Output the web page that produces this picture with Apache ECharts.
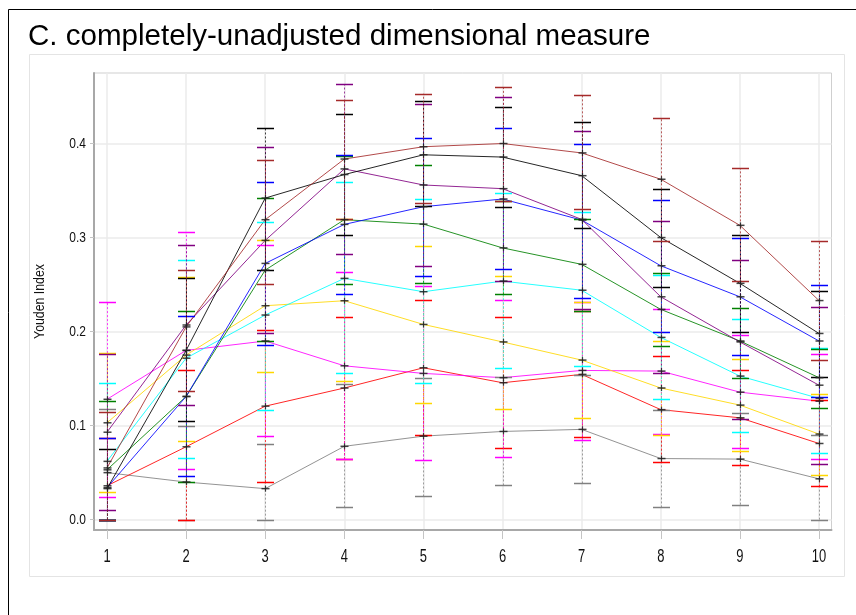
<!DOCTYPE html>
<html><head><meta charset="utf-8">
<script src="https://cdn.jsdelivr.net/npm/echarts@6/dist/echarts.min.js"></script>
<style>html,body{margin:0;padding:0;background:#fff}#c{width:856px;height:615px}</style>
</head><body><div id="c"></div>
<script>
// ---------- data ----------
const xValues = [1, 2, 3, 4, 5, 6, 7, 8, 9, 10];
const yTicks = [0, 0.1, 0.2, 0.3, 0.4];
const titleText = 'C. completely-unadjusted dimensional measure';
const yAxisTitle = 'Youden Index';

const brownVal = [0.055, 0.205, 0.319, 0.3835, 0.3966, 0.400, 0.390, 0.362, 0.313, 0.233];
const brownLo  = [0.000, 0.137, 0.251, 0.320, 0.337, 0.339, 0.330, 0.296, 0.2534, 0.1697];
const brownHi  = [0.115, 0.266, 0.382, 0.446, 0.453, 0.460, 0.4516, 0.4268, 0.3736, 0.296];

const blackVal = [0.033, 0.180, 0.342, 0.367, 0.388, 0.3856, 0.3658, 0.300, 0.2513, 0.198];
const blackLo  = [0.000, 0.1045, 0.265, 0.303, 0.334, 0.332, 0.310, 0.247, 0.200, 0.152];
const blackHi  = [0.075, 0.257, 0.416, 0.431, 0.445, 0.4385, 0.4225, 0.352, 0.3023, 0.2428];

const purpleVal = [0.093, 0.207, 0.297, 0.373, 0.3559, 0.352, 0.3193, 0.237, 0.189, 0.143];
const purpleLo  = [0.010, 0.1215, 0.198, 0.283, 0.270, 0.254, 0.2243, 0.1555, 0.107, 0.0587];
const purpleHi  = [0.176, 0.292, 0.396, 0.463, 0.4417, 0.449, 0.413, 0.318, 0.2757, 0.2257];

const blueVal = [0.034, 0.131, 0.2725, 0.314, 0.3328, 0.341, 0.3186, 0.270, 0.237, 0.190];
const blueLo  = [0.000, 0.046, 0.186, 0.2396, 0.2587, 0.267, 0.2353, 0.200, 0.1747, 0.130];
const blueHi  = [0.087, 0.217, 0.3587, 0.388, 0.4055, 0.416, 0.400, 0.340, 0.299, 0.250];

const greenVal = [0.053, 0.131, 0.2654, 0.319, 0.3143, 0.289, 0.2715, 0.2236, 0.190, 0.151];
const greenLo  = [0.000, 0.040, 0.190, 0.251, 0.252, 0.2396, 0.222, 0.1846, 0.151, 0.1186];
const greenHi  = [0.126, 0.222, 0.3417, 0.387, 0.3768, 0.339, 0.3193, 0.262, 0.2247, 0.181];

const cyanVal = [0.062, 0.1717, 0.2176, 0.2566, 0.2424, 0.2537, 0.244, 0.1938, 0.1527, 0.129];
const cyanLo  = [0.000, 0.066, 0.117, 0.1555, 0.145, 0.161, 0.163, 0.128, 0.0927, 0.0704];
const cyanHi  = [0.145, 0.276, 0.3168, 0.3587, 0.3406, 0.347, 0.3275, 0.260, 0.213, 0.183];

const goldVal = [0.103, 0.175, 0.2275, 0.2328, 0.2076, 0.189, 0.1697, 0.140, 0.1218, 0.091];
const goldLo  = [0.029, 0.084, 0.1566, 0.147, 0.1236, 0.118, 0.1076, 0.090, 0.0725, 0.047];
const goldHi  = [0.177, 0.258, 0.297, 0.320, 0.291, 0.2587, 0.232, 0.190, 0.1704, 0.1335];

const magentaVal = [0.128, 0.180, 0.190, 0.1636, 0.1555, 0.151, 0.1587, 0.158, 0.1356, 0.126];
const magentaLo  = [0.024, 0.054, 0.0888, 0.064, 0.063, 0.067, 0.0842, 0.0906, 0.0757, 0.065];
const magentaHi  = [0.231, 0.3055, 0.292, 0.263, 0.248, 0.234, 0.232, 0.224, 0.196, 0.1757];

const redVal = [0.036, 0.0775, 0.1207, 0.140, 0.1615, 0.1456, 0.1545, 0.117, 0.1083, 0.081];
const redLo  = [0.000, 0.000, 0.040, 0.0644, 0.090, 0.0757, 0.0874, 0.0608, 0.0576, 0.0353];
const redHi  = [0.087, 0.159, 0.202, 0.216, 0.234, 0.215, 0.222, 0.1736, 0.159, 0.127];

const grayVal = [0.050, 0.040, 0.033, 0.078, 0.0888, 0.0938, 0.096, 0.065, 0.0644, 0.0434];
const grayLo  = [0.000, 0.000, 0.000, 0.013, 0.0247, 0.0364, 0.0385, 0.013, 0.016, 0.000];
const grayHi  = [0.118, 0.100, 0.080, 0.144, 0.151, 0.152, 0.1534, 0.117, 0.113, 0.0895];

const seriesDefs = [
  {name: 'gray',    color: '#808080', val: grayVal,    lo: grayLo,    hi: grayHi},
  {name: 'red',     color: '#FF0000', val: redVal,     lo: redLo,     hi: redHi},
  {name: 'magenta', color: '#FF00FF', val: magentaVal, lo: magentaLo, hi: magentaHi},
  {name: 'gold',    color: '#FFD700', val: goldVal,    lo: goldLo,    hi: goldHi},
  {name: 'cyan',    color: '#00FFFF', val: cyanVal,    lo: cyanLo,    hi: cyanHi},
  {name: 'green',   color: '#008000', val: greenVal,   lo: greenLo,   hi: greenHi},
  {name: 'blue',    color: '#0000FF', val: blueVal,    lo: blueLo,    hi: blueHi},
  {name: 'purple',  color: '#800080', val: purpleVal,  lo: purpleLo,  hi: purpleHi},
  {name: 'black',   color: '#000000', val: blackVal,   lo: blackLo,   hi: blackHi},
  {name: 'brown',   color: '#A52A2A', val: brownVal,   lo: brownLo,   hi: brownHi}
];

// ---------- chart ----------
const FONT = '"Liberation Sans", Arial, sans-serif';
const chart = echarts.init(document.getElementById('c'), null, {renderer: 'canvas'});

function errRender(color) {
  return function (params, api) {
    const x = api.value(0), v = api.value(1), lo = api.value(2), hi = api.value(3);
    const pL = api.coord([x, lo]), pH = api.coord([x, hi]), pV = api.coord([x, v]);
    const hw = 8.5;
    const cx = Math.round(pL[0]) + 0.5;
    return {
      type: 'group',
      children: [
        {type: 'line', shape: {x1: cx, y1: pL[1], x2: cx, y2: pH[1]},
         style: {stroke: color, lineWidth: 1, lineDash: [2, 2], opacity: 0.75}},
        {type: 'line', shape: {x1: cx - hw, y1: Math.round(pL[1]) + 0.5, x2: cx + hw, y2: Math.round(pL[1]) + 0.5},
         style: {stroke: color, lineWidth: 1.5}},
        {type: 'line', shape: {x1: cx - hw, y1: Math.round(pH[1]) + 0.5, x2: cx + hw, y2: Math.round(pH[1]) + 0.5},
         style: {stroke: color, lineWidth: 1.5}},
        {type: 'line', shape: {x1: cx - 4, y1: pV[1], x2: cx + 4, y2: pV[1]},
         style: {stroke: '#222', lineWidth: 1.5, opacity: 0.85}, z2: 10},
        {type: 'line', shape: {x1: cx, y1: pV[1] - 3, x2: cx, y2: pV[1] + 3},
         style: {stroke: '#222', lineWidth: 1.2, opacity: 0.85}, z2: 10}
      ]
    };
  };
}

const series = [];
seriesDefs.forEach(function (d) {
  series.push({
    name: d.name, type: 'line',
    data: xValues.map(function (x, i) { return [x, d.val[i]]; }),
    symbol: 'none', z: 2,
    lineStyle: {color: d.color, width: 1, opacity: 0.85},
    itemStyle: {color: d.color}, silent: true, animation: false
  });
});
seriesDefs.forEach(function (d) {
  series.push({
    name: d.name + '-ci', type: 'custom', z: 3,
    renderItem: errRender(d.color),
    data: xValues.map(function (x, i) { return [x, d.val[i], d.lo[i], d.hi[i]]; }),
    encode: {x: 0, y: [2, 3]}, animation: false, silent: true
  });
});

const GRID = {left: 94, right: 24.5, top: 73, bottom: 85};

const option = {
  animation: false,
  backgroundColor: '#ffffff',
  grid: Object.assign({show: true, borderColor: '#cfcfcf', borderWidth: 1, backgroundColor: 'transparent'}, GRID),
  xAxis: {
    type: 'value', min: 0.8357, max: 10.158,
    axisLine: {show: true, onZero: false, lineStyle: {color: '#a8a8a8', width: 2}},
    axisTick: {show: true, customValues: xValues, length: 9, lineStyle: {color: '#c4c4c4'}},
    axisLabel: {show: false, customValues: xValues},
    splitLine: {show: true, lineStyle: {color: '#ebebeb', width: 1.5}}
  },
  yAxis: {
    type: 'value', min: -0.011, max: 0.475,
    axisLine: {show: true, onZero: false, lineStyle: {color: '#a8a8a8', width: 2}},
    axisTick: {show: true, customValues: yTicks, length: 4, lineStyle: {color: '#c4c4c4'}},
    axisLabel: {show: false, customValues: yTicks},
    splitLine: {show: true, lineStyle: {color: '#ebebeb', width: 1.5}}
  },
  series: series
};
chart.setOption(option);

// ---------- texts (condensed, like the reference), placed through the axis scales ----------
const H = 615;
const axisBottom = H - GRID.bottom;
const gridMidY = (GRID.top + axisBottom) / 2;
const graphics = [
  {type: 'rect', z: -10, silent: true, shape: {x: 8.5, y: 9.5, width: 1000, height: 1000},
   style: {fill: '#ffffff', stroke: '#000000', lineWidth: 1}},
  {type: 'rect', z: -9, silent: true, shape: {x: 29.5, y: 54.5, width: 815, height: 522},
   style: {fill: '#ffffff', stroke: '#e4e4e4', lineWidth: 1}},
  {type: 'text', z: 5, silent: true, x: 28, y: 37, scaleX: 0.985,
   style: {text: titleText, font: '30px ' + FONT, fill: '#000', align: 'left', verticalAlign: 'middle',
           textAlign: 'left', textVerticalAlign: 'middle'}},
  {type: 'text', z: 5, silent: true, x: 40, y: gridMidY, rotation: Math.PI / 2, scaleX: 0.82,
   style: {text: yAxisTitle, font: '15px ' + FONT, fill: '#111', align: 'center', verticalAlign: 'middle',
           textAlign: 'center', textVerticalAlign: 'middle'}}
];
xValues.forEach(function (x) {
  const p = chart.convertToPixel({gridIndex: 0}, [x, 0]);
  graphics.push({type: 'text', z: 5, silent: true, x: p[0], y: axisBottom + 27, scaleX: 0.72,
    style: {text: String(x), font: '18px ' + FONT, fill: '#111', align: 'center', verticalAlign: 'middle',
            textAlign: 'center', textVerticalAlign: 'middle'}});
});
yTicks.forEach(function (v) {
  const p = chart.convertToPixel({gridIndex: 0}, [1, v]);
  graphics.push({type: 'text', z: 5, silent: true, x: GRID.left - 8, y: p[1], scaleX: 0.8,
    style: {text: v.toFixed(1), font: '15px ' + FONT, fill: '#111', align: 'right', verticalAlign: 'middle',
            textAlign: 'right', textVerticalAlign: 'middle'}});
});
chart.setOption({graphic: graphics});
</script>
</body></html>
